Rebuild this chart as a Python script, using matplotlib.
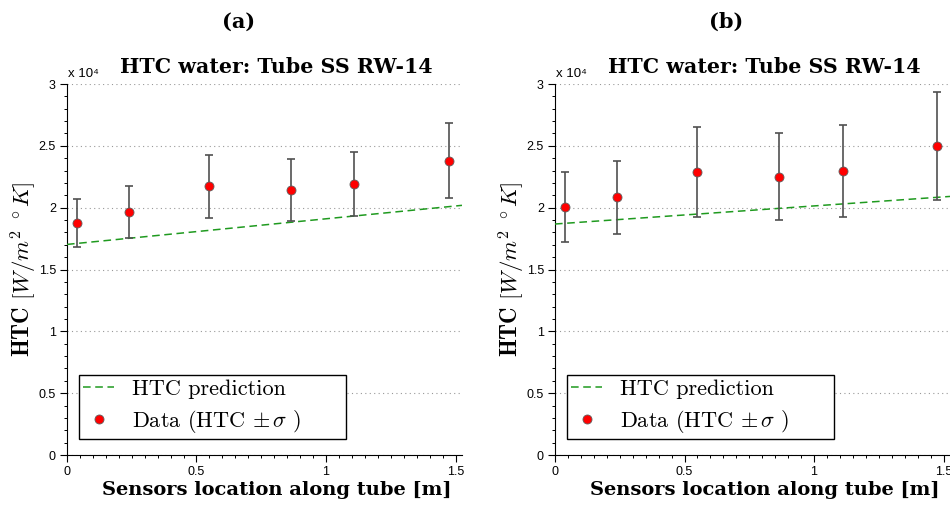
import numpy as np
import matplotlib
matplotlib.use("Agg")
import matplotlib.pyplot as plt
from matplotlib.ticker import MultipleLocator, FuncFormatter

plt.rcParams['mathtext.fontset'] = 'cm'
plt.rcParams['axes.formatter.use_mathtext'] = True

# Sensorpositionen entlang des Rohres [m]
sensor_x = [0.04, 0.24, 0.55, 0.865, 1.11, 1.475]

# Messwerte HTC [W/m^2 K] und Standardabweichung, Fall (a)
htc_a = [18780, 19650, 21720, 21430, 21920, 23800]
sigma_a = [1920, 2110, 2580, 2500, 2610, 3020]

# Fall (b)
htc_b = [20080, 20840, 22910, 22510, 22960, 25020]
sigma_b = [2840, 2970, 3650, 3540, 3690, 4360]

# Vorhersage (Gerade zwischen Rohranfang und -ende)
pred_x = [0.0, 1.525]
pred_a = [17030, 20190]
pred_b = [18680, 20910]

panels = [
    ('(a)', htc_a, sigma_a, pred_a),
    ('(b)', htc_b, sigma_b, pred_b),
]

fig = plt.figure(figsize=(9.5, 5.08), dpi=100)
ax_left = [0.0705, 0.5842]

tickfont = ['Liberation Sans', 'DejaVu Sans']
boldserif = 'DejaVu Serif'

for i, (tag, htc, sig, pred) in enumerate(panels):
    ax = fig.add_axes([ax_left[i], 0.1043, 0.4158, 0.7303])

    y = np.array(htc) / 1e4
    s = np.array(sig) / 1e4
    p = np.array(pred) / 1e4

    ax.plot(pred_x, p, linestyle=(0, (5, 3)), color='#1f9a1f', lw=1.1,
            label='HTC prediction', zorder=3)
    ax.errorbar(sensor_x, y, yerr=s, fmt='none', ecolor='#505050',
                elinewidth=1.2, capsize=3.2, capthick=1.2, zorder=4)
    ax.plot(sensor_x, y, 'o', color='#ff0000', markeredgecolor='#606060',
            markeredgewidth=0.6, markersize=6.5, zorder=5,
            label=r'Data (HTC $\pm\,\sigma$ )')

    ax.set_xlim(0, 1.525)
    ax.set_ylim(0, 3)
    ax.xaxis.set_major_locator(MultipleLocator(0.5))
    ax.xaxis.set_minor_locator(MultipleLocator(0.05))
    ax.yaxis.set_major_locator(MultipleLocator(0.5))
    ax.yaxis.set_minor_locator(MultipleLocator(0.1))
    fmt = FuncFormatter(lambda v, pos: '%g' % v)
    ax.xaxis.set_major_formatter(fmt)
    ax.yaxis.set_major_formatter(fmt)
    ax.tick_params(which='major', direction='out', length=5, width=0.8,
                   labelsize=9, pad=3)
    ax.tick_params(which='minor', direction='out', length=2.5, width=0.7)
    for lab in ax.get_xticklabels() + ax.get_yticklabels():
        lab.set_family(tickfont)

    ax.spines['top'].set_visible(False)
    ax.spines['right'].set_visible(False)
    ax.grid(axis='y', linestyle=(0, (1, 3)), color='#999999', lw=0.8)
    ax.set_axisbelow(True)

    ax.text(0.003, 1.01, 'x 10⁴', transform=ax.transAxes, fontsize=9.5,
            family=tickfont, ha='left', va='bottom')
    ax.text(0.53, 1.02, 'HTC water: Tube SS RW-14', transform=ax.transAxes,
            family=boldserif, weight='bold', fontsize=14.8, ha='center',
            va='bottom')
    ax.text(0.434, 1.167, tag, transform=ax.transAxes, family=boldserif,
            weight='bold', fontsize=15, ha='center', va='center')

    ax.set_xlabel('Sensors location along tube [m]', family=boldserif,
                  weight='bold', fontsize=14)
    ax.xaxis.set_label_coords(0.53, -0.07)
    ax.set_ylabel(r'$\mathbf{HTC}\ [W/m^2\ ^\circ K]$', fontsize=16.5)
    ax.yaxis.set_label_coords(-0.07, 0.5)

    leg = ax.legend(loc='lower left', bbox_to_anchor=(0.03, 0.043, 0.676, 0.181),
                    mode='expand', prop={'family': 'cmr10', 'size': 16},
                    fancybox=False, framealpha=1, edgecolor='black',
                    handlelength=1.4, handletextpad=0.8, labelspacing=0.4,
                    borderpad=0.2, borderaxespad=0, numpoints=1)
    leg.get_frame().set_linewidth(1.0)

fig.savefig('out.png', dpi=100)
